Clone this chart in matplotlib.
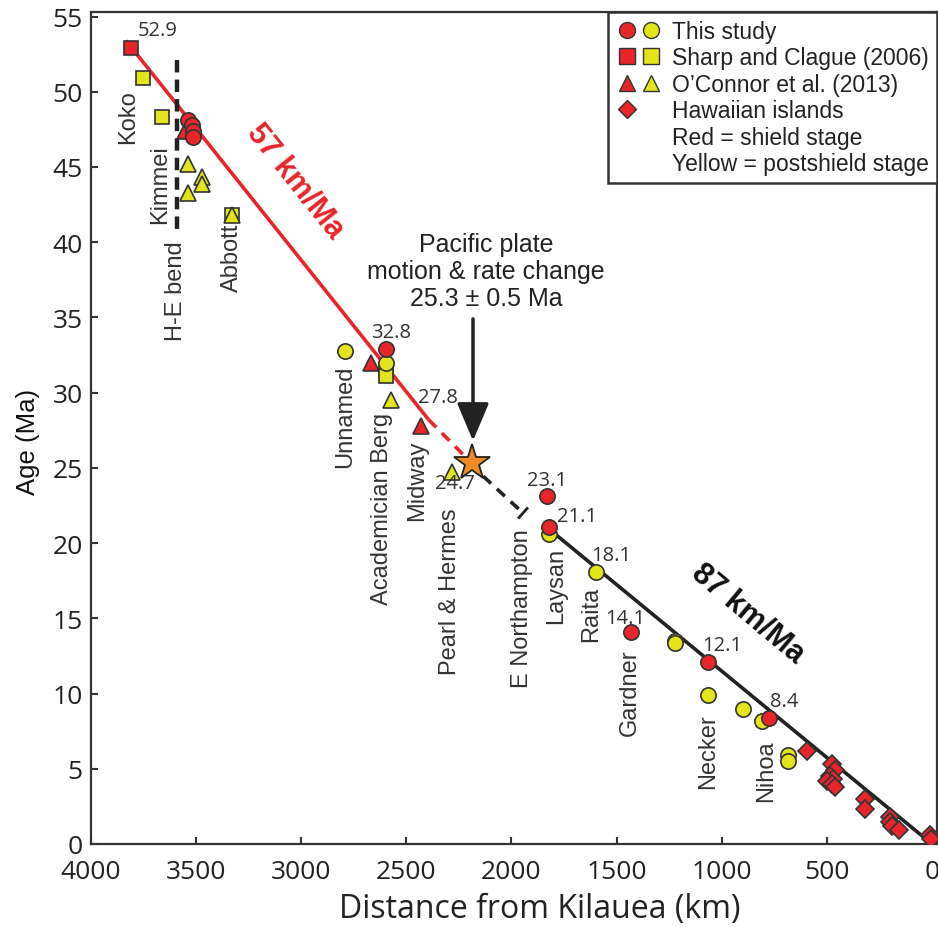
import matplotlib
matplotlib.use("Agg")
import matplotlib.pyplot as plt
from matplotlib.lines import Line2D
from matplotlib.legend_handler import HandlerTuple

# --- colours ---
RED = '#e8252a'
YEL = '#e4e41c'
EDGE = '#333333'
TXT = '#333333'

# --- data: (distance from Kilauea km, age Ma) ---
# this study, shield (red circles)
this_red_d = [3537, 3521, 3516, 3513, 2597, 1833, 1820, 1433, 1067, 774]
this_red_a = [48.1, 47.8, 47.4, 47.0, 32.9, 23.1, 21.1, 14.1, 12.1, 8.4]
# this study, postshield (yellow circles)
this_yel_d = [2792, 2597, 1820, 1598, 1222, 1222, 1064, 901, 807, 683, 683]
this_yel_a = [32.8, 32.0, 20.6, 18.1, 13.5, 13.35, 9.9, 9.0, 8.2, 5.9, 5.5]
# Sharp and Clague (2006)
sc_red_d = [3811]
sc_red_a = [52.9]
sc_yel_d = [3754, 3664, 3331, 2597, 2597]
sc_yel_a = [50.9, 48.3, 41.8, 31.5, 31.1]
# O'Connor et al. (2013)
oc_red_d = [3553, 2668, 2432]
oc_red_a = [47.4, 32.0, 27.8]
oc_yel_d = [3537, 3473, 3473, 3537, 3331, 2575, 2285]
oc_yel_a = [45.2, 44.3, 43.9, 43.3, 41.8, 29.5, 24.7]
# Hawaiian islands (red diamonds)
hi_d = [596, 477, 461, 485, 469, 501, 477, 461, 319, 319, 200, 200, 192, 157, 8, 3]
hi_a = [6.2, 5.3, 4.9, 4.5, 4.3, 4.2, 4.0, 3.8, 3.0, 2.3, 1.8, 1.45, 1.2, 0.9, 0.6, 0.3]

# star: plate motion change
star_d, star_a = 2189, 25.3

# numeric age labels
num_labels = ['52.9', '32.8', '27.8', '24.7', '23.1', '21.1', '18.1', '14.1', '12.1', '8.4']
num_d = [3681, 2575, 2350, 2268, 1830, 1688, 1527, 1460, 999, 704]
num_a = [54.1, 34.0, 29.7, 24.0, 24.2, 21.8, 19.2, 15.0, 13.2, 9.5]

# seamount / island names (vertical)
names = ['Koko', 'Kimmei', 'H-E bend', 'Abbott', 'Unnamed', 'Academician Berg', 'Midway',
         'Pearl & Hermes', 'E Northampton', 'Laysan', 'Raita', 'Gardner', 'Necker', 'Nihoa']
name_d = [3824, 3672, 3596, 3329, 2792, 2616, 2449, 2293, 1950, 1788, 1621, 1436, 1065, 790]
name_a = [48.4, 43.9, 36.8, 39.0, 28.45, 22.35, 24.2, 16.85, 15.7, 17.25, 15.3, 10.1, 6.2, 4.9]

# trend lines
red_line_d = [3834, 2394]
red_line_a = [53.4, 28.2]
red_dash_d = [2394, 2210]
red_dash_a = [28.2, 25.6]
blk_dash_d = [2135, 1945]
blk_dash_a = [24.45, 22.0]
blk_line_d = [1827, 0]
blk_line_a = [21.0, 0.0]
bend_d = 3592
bend_a = [52.1, 40.6]

SANS = ['Liberation Sans', 'DejaVu Sans']
TICKF = ['Open Sans', 'DejaVu Sans']

fig = plt.figure(figsize=(9.38, 9.28), dpi=100)
ax = fig.add_axes([91 / 938, 1 - 845 / 928, (937 - 91) / 938, (845 - 13) / 928])
ax.set_xlim(4000, -24)
ax.set_ylim(0, 55.3)

# lines
ax.plot(red_line_d, red_line_a, color=RED, lw=2.6, zorder=2, solid_capstyle='butt')
ax.plot(red_dash_d, red_dash_a, color=RED, lw=2.6, ls=(0, (3, 2.2)), zorder=2)
ax.plot(blk_dash_d, blk_dash_a, color='#222222', lw=2.6, ls=(0, (3, 2.2)), zorder=2)
# small perpendicular tick at end of dashed black line
ax.plot([1926, 1964], [22.3, 21.7], color='#222222', lw=2.0, zorder=2)
ax.plot(blk_line_d, blk_line_a, color='#222222', lw=2.6, zorder=2)
ax.plot([bend_d, bend_d], bend_a, color='#222222', lw=3.2, ls=(0, (2.8, 1.6)), zorder=2)

mk = dict(ls='none', mec=EDGE, mew=1.2, zorder=4)
ax.plot(sc_yel_d, sc_yel_a, marker='s', ms=10.5, mfc=YEL, **mk)
ax.plot(sc_red_d, sc_red_a, marker='s', ms=10.5, mfc=RED, **mk)
ax.plot(oc_red_d, oc_red_a, marker='^', ms=11.5, mfc=RED, **mk)
ax.plot(oc_yel_d, oc_yel_a, marker='^', ms=11.5, mfc=YEL, **mk)
ax.plot(this_yel_d, this_yel_a, marker='o', ms=11, mfc=YEL, **mk)
ax.plot(this_red_d, this_red_a, marker='o', ms=11, mfc=RED, **mk)
ax.plot(hi_d, hi_a, marker='D', ms=9.5, mfc=RED, **mk)
ax.plot([star_d], [star_a], marker='*', ms=27, mfc='#f08a24', mec='#222222', mew=1.3,
        ls='none', zorder=5)

# labels
for t, d, a in zip(num_labels, num_d, num_a):
    ax.text(d, a, t, ha='center', va='center', fontsize=14.5, color=TXT, family=TICKF, zorder=6)
for t, d, a in zip(names, name_d, name_a):
    ax.text(d, a, t, ha='center', va='center', rotation=90, fontsize=17, color=TXT,
            family=SANS, zorder=6)

ax.text(3025, 44.1, '57 km/Ma', color=RED, fontsize=22, fontweight='bold', family=SANS,
        rotation=-51.4, ha='center', va='center', rotation_mode='anchor')
ax.text(875, 15.4, '87 km/Ma', color='#111111', fontsize=22, fontweight='bold', family=SANS,
        rotation=-40, ha='center', va='center', rotation_mode='anchor')

ax.text(2120, 38.1, 'Pacific plate\nmotion & rate change\n25.3 \u00b1 0.5 Ma', ha='center',
        va='center', fontsize=18, color='#222222', family=SANS, linespacing=1.15)
ax.annotate('', xy=(2183, 26.8), xytext=(2183, 34.9),
            arrowprops=dict(arrowstyle='-|>,head_length=1.3,head_width=0.55', lw=2.5,
                            color='#222222', shrinkA=0, shrinkB=0, mutation_scale=18))

# axes styling
for s in ax.spines.values():
    s.set_linewidth(1.6)
    s.set_color(EDGE)
ax.set_xticks(range(0, 4001, 500))
ax.set_yticks(range(0, 56, 5))
ax.tick_params(direction='in', length=5, width=1.5, color=EDGE, labelsize=19,
               labelcolor='#222222')
ax.tick_params(axis='x', pad=11)
ax.tick_params(axis='y', pad=6)
for lab in ax.get_xticklabels() + ax.get_yticklabels():
    lab.set_family(TICKF)
ax.set_xlabel('Distance from Kilauea (km)', fontsize=23, family=TICKF, color='#222222')
ax.set_ylabel('Age (Ma)', fontsize=18.5, family=SANS, color='#111111')
ax.xaxis.set_label_coords((540 - 91) / 846, -(910 - 845) / 832)
ax.yaxis.set_label_coords(-(91 - 28) / 846, (845 - 442) / 832)
ax.xaxis.label.set_va('center')
ax.yaxis.label.set_va('center')

# legend
def mh(marker, color, ms):
    return Line2D([], [], ls='none', marker=marker, ms=ms, mfc=color, mec=EDGE, mew=1.0)

blank = Line2D([], [], ls='none')
handles = [(mh('o', RED, 11.5), mh('o', YEL, 11.5)),
           (mh('s', RED, 11), mh('s', YEL, 11)),
           (mh('^', RED, 12), mh('^', YEL, 12)),
           (mh('D', RED, 9.5), blank),
           (blank, blank),
           (blank, blank)]
labels = ['This study', 'Sharp and Clague (2006)', 'O\u2019Connor et al. (2013)',
          'Hawaiian islands', 'Red = shield stage', 'Yellow = postshield stage']
leg = ax.legend(handles, labels, handler_map={tuple: HandlerTuple(ndivide=None, pad=0.15)},
                loc='upper right', borderaxespad=0, fancybox=False, framealpha=1,
                prop={'family': SANS, 'size': 16.5}, labelspacing=0.15, handlelength=2.0,
                handletextpad=0.45, borderpad=0.35)
leg.get_frame().set_edgecolor(EDGE)
leg.get_frame().set_linewidth(1.8)
for t in leg.get_texts():
    t.set_color('#222222')

fig.savefig('out.png', dpi=100)
